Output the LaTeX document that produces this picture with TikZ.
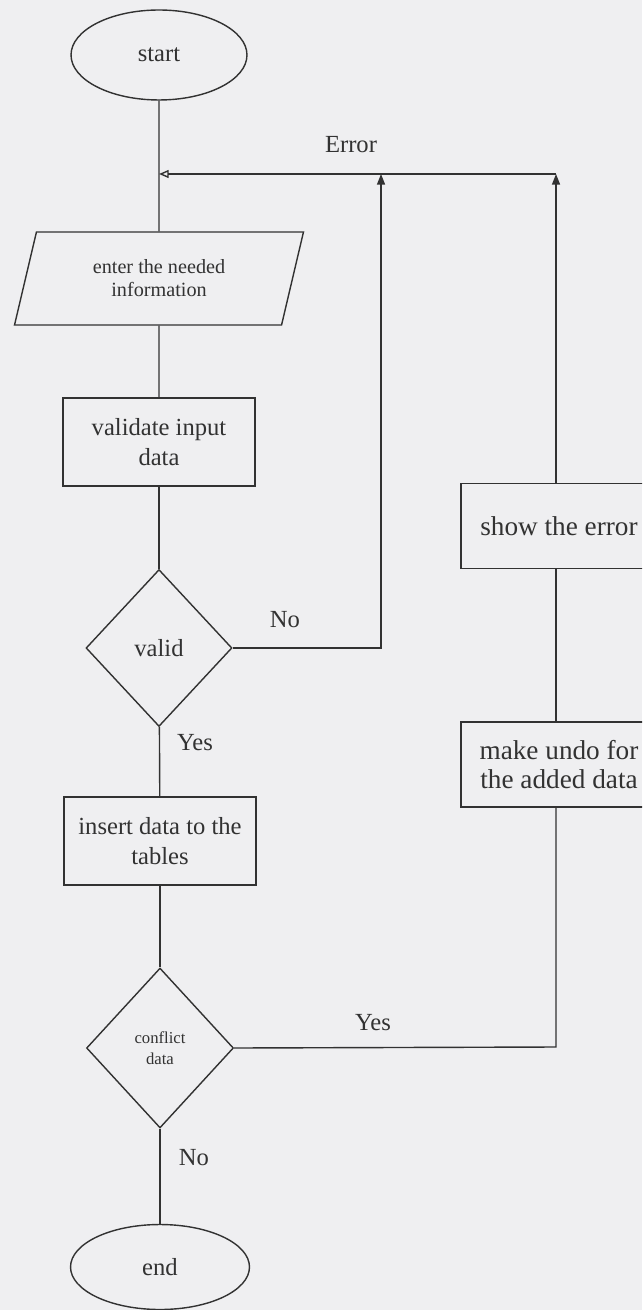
\documentclass[tikz,border=0pt]{standalone}
\usepackage{fontspec}
\setmainfont{Liberation Serif}
\usetikzlibrary{shapes.geometric,arrows.meta}
\definecolor{bg}{RGB}{239,239,241}
\definecolor{ink}{RGB}{50,50,50}
\begin{document}
\begin{tikzpicture}[x=0.02cm,y=-0.02cm,
  lw/.style={draw=ink,line width=0.8pt},
  mainfont/.style={font=\fontsize{14}{17}\selectfont},
  term/.style={ellipse,lw,inner sep=0pt,mainfont,text=ink},
  procbox/.style={rectangle,lw,inner sep=0pt,align=center,mainfont,text=ink,minimum width=3.84cm,minimum height=1.76cm},
  sidebox/.style={rectangle,lw,inner sep=0pt,align=center,text=ink,font=\fontsize{15.5}{16}\selectfont,minimum width=3.92cm,minimum height=1.70cm},
  decide/.style={diamond,lw,inner sep=0pt,align=center,text=ink},
  iobox/.style={trapezium,trapezium left angle=59.4,trapezium right angle=120.6,trapezium stretches body,lw,inner sep=0pt,align=center,text=ink,minimum width=5.78cm,minimum height=1.86cm,font=\fontsize{11.5}{13}\selectfont},
  lbl/.style={inner sep=0pt,mainfont,text=ink},
  uptip/.style={-{Triangle[length=6pt,width=4.5pt]}},
  opentip/.style={-{Triangle[open,length=5.5pt,width=4.5pt]}}
]
\useasboundingbox (0,0) rectangle (642,1310);
\clip (0,0) rectangle (642,1310);
\fill[bg] (0,0) rectangle (642,1310);

% main column
\node[term,minimum width=3.52cm,minimum height=1.8cm] (start) at (159,55) {start};
\node[iobox] (inp) at (159,278.5) {enter the needed\\information};
\node[procbox] (val) at (159,442) {validate input\\data};
\node[decide,mainfont,minimum width=2.92cm,minimum height=3.14cm] (valid) at (159,648) {valid};
\node[procbox] (ins) at (160,841) {insert data to the\\tables};
\node[decide,font=\fontsize{9.5}{12}\selectfont,minimum width=2.94cm,minimum height=3.2cm] (conf) at (160,1048) {conflict\\data};
\node[term,minimum width=3.58cm,minimum height=1.7cm] (end) at (160,1267) {end};

% right column
\node[sidebox] (show) at (559,526) {show the error};
\node[sidebox] (undo) at (559,764.5) {make undo for\\the added data};

% helper coordinates
\coordinate (eR) at (556,174);
\coordinate (eL) at (381,174);
\coordinate (cR) at (556,1047);

% main flow
\draw[lw] (start) -- (inp);
\draw[lw] (inp) -- (val);
\draw[lw] (val) -- (valid);
\draw[lw] (valid) -- (ins);
\draw[lw] (ins) -- (conf);
\draw[lw] (conf) -- (end);

% No loop from valid
\draw[lw,uptip] (valid.east) -- (valid.east -| eL) -- (eL);
% Yes loop from conflict
\draw[lw] (conf.east) -- (cR) -- (cR |- undo.south);
\draw[lw] (undo.north -| cR) -- (cR |- show.south);
\draw[lw,uptip] (show.north -| cR) -- (eR);
% error line back to main column
\draw[lw,opentip] (eR) -- (start |- eR);

% labels
\node[lbl] (lerr) at (351,145) {Error};
\node[lbl] (lno1) at (285,620) {No};
\node[lbl] (lyes1) at (195,743) {Yes};
\node[lbl] (lyes2) at (373,1023) {Yes};
\node[lbl] (lno2) at (194,1158) {No};
\end{tikzpicture}
\end{document}
